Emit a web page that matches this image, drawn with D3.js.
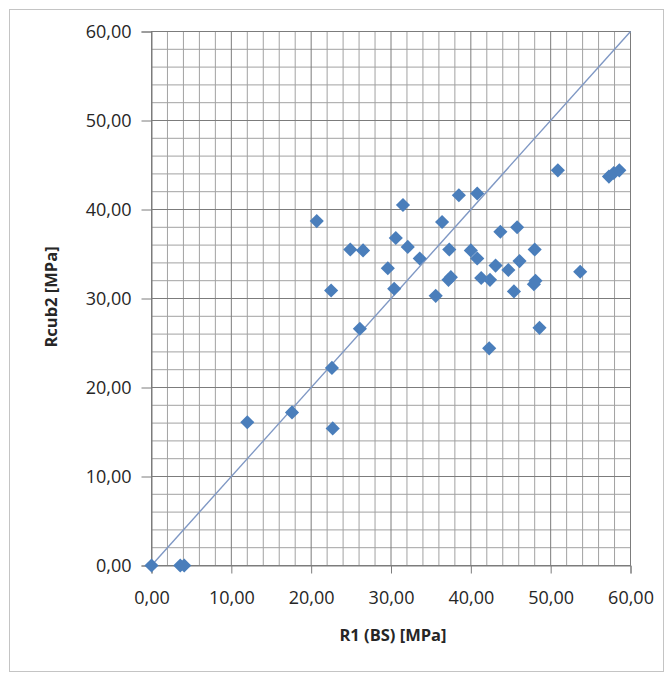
<!DOCTYPE html>
<html>
<head>
<meta charset="utf-8">
<script src="https://cdn.jsdelivr.net/npm/d3@7"></script>
<style>
  html, body { margin: 0; padding: 0; background: #fff; }
  svg { display: block; }
  text { font-family: "Open Sans", "Liberation Sans", sans-serif; }
</style>
</head>
<body>
<svg id="chart" width="672" height="679"></svg>
<script>
// R1 (BS) strength vs cube strength Rcub2, both in MPa
const r1Values = [0, 3.6, 4.1, 12.0, 17.6, 20.7, 22.5, 22.6, 22.7, 24.9, 26.5, 26.1, 29.6, 30.4, 30.6,
  31.5, 32.1, 33.6, 35.6, 36.4, 37.3, 37.2, 37.5, 38.5, 40.0, 40.8, 40.8, 41.3, 42.4, 42.3,
  43.1, 43.7, 44.7, 45.4, 45.8, 46.1, 48.0, 47.9, 48.1, 48.6, 50.9, 53.7, 57.3, 57.9, 58.6];
const rcubValues = [0, 0, 0, 16.1, 17.2, 38.7, 30.9, 22.2, 15.4, 35.5, 35.4, 26.6, 33.4, 31.1, 36.8,
  40.5, 35.8, 34.5, 30.3, 38.6, 35.5, 32.1, 32.4, 41.6, 35.4, 34.5, 41.8, 32.3, 32.1, 24.4,
  33.7, 37.5, 33.2, 30.8, 38.0, 34.2, 35.5, 31.6, 32.0, 26.7, 44.4, 33.0, 43.7, 44.1, 44.4];

// Equality line R1 = Rcub2
const equalityLine = [[0, 0], [60, 60]];

const axisDomain = [0, 60];
const majorTicks = [0, 10, 20, 30, 40, 50, 60];
const minorTicks = d3.range(0, 61, 2);

const xTitle = "R1 (BS) [MPa]";
const yTitle = "Rcub2 [MPa]";

const svg = d3.select("#chart");

const plot = { left: 151.5, right: 630.5, top: 31.5, bottom: 565.5 };

const x = d3.scaleLinear().domain(axisDomain).range([plot.left, plot.right]);
const y = d3.scaleLinear().domain(axisDomain).range([plot.bottom, plot.top]);

const locale = d3.formatLocale({ decimal: ",", thousands: ".", grouping: [3], currency: ["", " €"] });
const fmt = locale.format(".2f");

// outer chart frame
svg.append("rect")
  .attr("x", 9.5).attr("y", 9.5)
  .attr("width", 654).attr("height", 662)
  .attr("fill", "#fff")
  .attr("stroke", "#c4c4c4")
  .attr("stroke-width", 1);

// minor grid
const grid = svg.append("g");
const minorOnly = minorTicks.filter(t => t % 10 !== 0);
grid.append("g").selectAll("line")
  .data(minorOnly)
  .join("line")
  .attr("x1", d => x(d)).attr("x2", d => x(d))
  .attr("y1", plot.top).attr("y2", plot.bottom)
  .attr("stroke", "#a2a2a2").attr("stroke-width", 1);
grid.append("g").selectAll("line")
  .data(minorOnly)
  .join("line")
  .attr("x1", plot.left).attr("x2", plot.right)
  .attr("y1", d => y(d)).attr("y2", d => y(d))
  .attr("stroke", "#a2a2a2").attr("stroke-width", 1);

// major grid
grid.append("g").selectAll("line")
  .data(majorTicks)
  .join("line")
  .attr("x1", d => x(d)).attr("x2", d => x(d))
  .attr("y1", plot.top).attr("y2", plot.bottom)
  .attr("stroke", "#7c7c7c").attr("stroke-width", 1);
grid.append("g").selectAll("line")
  .data(majorTicks)
  .join("line")
  .attr("x1", plot.left).attr("x2", plot.right)
  .attr("y1", d => y(d)).attr("y2", d => y(d))
  .attr("stroke", "#7c7c7c").attr("stroke-width", 1);

// plot area outline
svg.append("rect")
  .attr("x", plot.left).attr("y", plot.top)
  .attr("width", plot.right - plot.left).attr("height", plot.bottom - plot.top)
  .attr("fill", "none").attr("stroke", "#7c7c7c").attr("stroke-width", 1);

// axes
const xAxis = d3.axisBottom(x).tickValues(majorTicks).tickSize(8).tickPadding(18).tickFormat(fmt);
const yAxis = d3.axisLeft(y).tickValues(majorTicks).tickSize(10).tickPadding(10).tickFormat(fmt);

const gx = svg.append("g").attr("transform", `translate(0,${plot.bottom})`).call(xAxis);
const gy = svg.append("g").attr("transform", `translate(${plot.left},0)`).call(yAxis);

[gx, gy].forEach(g => {
  g.select(".domain").attr("stroke", "#7c7c7c");
  g.selectAll(".tick line").attr("stroke", "#7c7c7c");
  g.selectAll(".tick text")
    .attr("fill", "#262626")
    .style("font-size", "18px")
    .style("font-family", "'Open Sans', sans-serif");
});

// equality line
const lineGen = d3.line().x(d => x(d[0])).y(d => y(d[1]));
svg.append("path")
  .datum(equalityLine)
  .attr("d", lineGen)
  .attr("fill", "none")
  .attr("stroke", "#7f98c4")
  .attr("stroke-width", 1.4);

// data points (diamonds)
const points = r1Values.map((v, i) => ({ x: v, y: rcubValues[i] }));
const diamond = d3.symbol().type(d3.symbolSquare).size(100);
svg.append("g").selectAll("path")
  .data(points)
  .join("path")
  .attr("d", diamond)
  .attr("transform", d => `translate(${x(d.x)},${y(d.y)}) rotate(45)`)
  .attr("fill", "#4a7ebb");

// axis titles
svg.append("text")
  .attr("x", (plot.left + plot.right) / 2 + 2)
  .attr("y", 641)
  .attr("text-anchor", "middle")
  .attr("fill", "#262626")
  .style("font-size", "16.5px")
  .style("font-weight", "bold")
  .text(xTitle);

svg.append("text")
  .attr("transform", `translate(57,297) rotate(-90)`)
  .attr("text-anchor", "middle")
  .attr("fill", "#262626")
  .style("font-size", "16.5px")
  .style("font-weight", "bold")
  .text(yTitle);
</script>
</body>
</html>
